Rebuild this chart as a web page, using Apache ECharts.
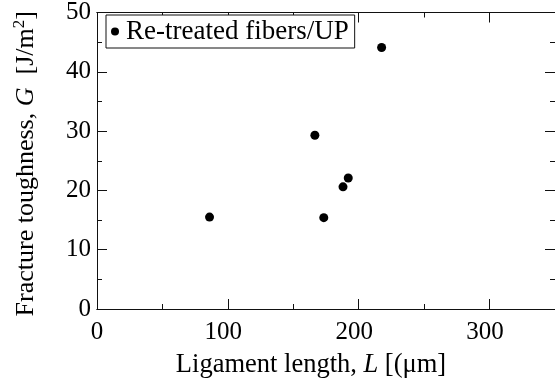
<!DOCTYPE html>
<html>
<head>
<meta charset="utf-8">
<script src="https://cdn.jsdelivr.net/npm/echarts@6/dist/echarts.min.js"></script>
<style>
html,body{margin:0;padding:0;background:#fff;}
#c{width:555px;height:385px;}
</style>
</head>
<body>
<div id="c"></div>
<script>
// Data
var seriesName = 'Re-treated fibers/UP';
var ligamentLength = [86, 166.5, 173.3, 188, 192, 217.5];
var fractureToughness = [15.5, 29.3, 15.4, 20.6, 22.1, 44.1];
var xTickLabels = ['0', '100', '200', '300'];
var yTickLabels = ['0', '10', '20', '30', '40', '50'];

var FONT = 'Liberation Serif';
var points = ligamentLength.map(function (v, i) { return [v, fractureToughness[i]]; });

function xAxisDef(pos, interval, tickLen, showLabels, extra) {
  var a = {
    type: 'value', position: pos, min: 0, max: 350, interval: interval,
    axisLine: { show: true, onZero: false, lineStyle: { color: '#111', width: 1 } },
    axisTick: { show: true, inside: true, length: tickLen, lineStyle: { color: '#111', width: 1 } },
    axisLabel: showLabels ? {
      show: true, margin: 11, fontFamily: FONT, fontSize: 25, color: '#000',
      showMaxLabel: false,
      formatter: function (v) {
        var s = String(v);
        if (xTickLabels.indexOf(s) < 0) return '';
        return s === '0' ? '{z|' + s + '}' : '{n|' + s + '}';
      },
      rich: {
        z: { fontFamily: FONT, fontSize: 25, color: '#000' },
        n: { fontFamily: FONT, fontSize: 25, color: '#000', padding: [0, 9, 0, 0] }
      }
    } : { show: false },
    splitLine: { show: false }
  };
  return Object.assign(a, extra || {});
}
function yAxisDef(pos, interval, tickLen, showLabels, extra) {
  var a = {
    type: 'value', position: pos, min: 0, max: 50, interval: interval,
    axisLine: { show: true, onZero: false, lineStyle: { color: '#111', width: 1 } },
    axisTick: { show: true, inside: true, length: tickLen, lineStyle: { color: '#111', width: 1 } },
    axisLabel: showLabels ? {
      show: true, margin: 6, fontFamily: FONT, fontSize: 25, color: '#000',
      padding: [5, 0, 0, 0],
      formatter: function (v) { var s = String(v); return yTickLabels.indexOf(s) >= 0 ? s : ''; }
    } : { show: false },
    splitLine: { show: false }
  };
  return Object.assign(a, extra || {});
}

var chart = echarts.init(document.getElementById('c'), null, { renderer: 'canvas' });
chart.setOption({
  animation: false,
  backgroundColor: '#fff',
  grid: { left: 97, top: 10, right: -5, bottom: 76, containLabel: false },
  legend: {
    show: true, left: 106, top: 15,
    data: [seriesName],
    icon: 'circle', itemWidth: 8, itemHeight: 8, itemGap: 6,
    padding: [3, 6, 3, 5],
    borderColor: '#111', borderWidth: 1, backgroundColor: '#fff',
    textStyle: { fontFamily: FONT, fontSize: 27, color: '#000', padding: [0, 0, 0, 2] }
  },
  xAxis: [
    xAxisDef('bottom', 100, 10, true, {
      name: '{a|Ligament length, }{i|L}{a| [(μm]}',
      nameLocation: 'middle', nameGap: 43,
      nameTextStyle: {
        fontFamily: FONT, fontSize: 26.5, color: '#000', padding: [0, 30, 0, 0],
        rich: {
          a: { fontFamily: FONT, fontSize: 26.5, color: '#000' },
          i: { fontFamily: FONT, fontSize: 26.5, color: '#000', fontStyle: 'italic' }
        }
      }
    }),
    xAxisDef('bottom', 50, 5, false),
    xAxisDef('top', 100, 10, false),
    xAxisDef('top', 50, 5, false)
  ],
  yAxis: [
    yAxisDef('left', 10, 10, true, {
      name: '{a|Fracture toughness, }{i|G}{a|  [J/m}{s|2}{a|]}',
      nameLocation: 'middle', nameGap: 56,
      nameTextStyle: {
        fontFamily: FONT, fontSize: 26, color: '#000', padding: [0, 6, 0, 0],
        rich: {
          a: { fontFamily: FONT, fontSize: 26, color: '#000', lineHeight: 30 },
          i: { fontFamily: FONT, fontSize: 26, color: '#000', fontStyle: 'italic', lineHeight: 30 },
          s: { fontFamily: FONT, fontSize: 17, color: '#000', verticalAlign: 'top', lineHeight: 17 }
        }
      }
    }),
    yAxisDef('left', 5, 5, false),
    yAxisDef('right', 10, 10, false),
    yAxisDef('right', 5, 5, false)
  ],
  series: [{
    name: seriesName, type: 'scatter', xAxisIndex: 0, yAxisIndex: 0,
    symbol: 'circle', symbolSize: 9,
    itemStyle: { color: '#000', opacity: 1 },
    data: points
  }]
});
</script>
</body>
</html>
